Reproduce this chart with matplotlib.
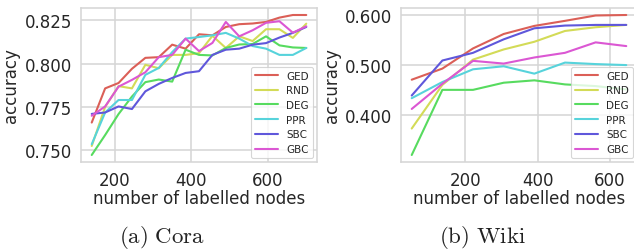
import matplotlib
matplotlib.use("Agg")
import matplotlib.pyplot as plt
import seaborn as sns
import numpy as np

sns.set_style("whitegrid")
plt.rcParams['font.family'] = ['DejaVu Sans']
plt.rcParams['mathtext.fontset'] = 'cm'

methods = ["GED", "RND", "DEG", "PPR", "SBC", "GBC"]

cora_x = [140, 175, 210, 245, 280, 315, 350, 385, 420, 455, 490, 525, 560, 595, 630, 665, 700]
cora_ged = [0.766, 0.7857, 0.7888, 0.797, 0.8033, 0.8037, 0.8109, 0.8086, 0.8169, 0.8163, 0.8211, 0.8227, 0.8231, 0.824, 0.8265, 0.828, 0.828]
cora_rnd = [0.7525, 0.775, 0.787, 0.7857, 0.7993, 0.7973, 0.805, 0.805, 0.806, 0.816, 0.809, 0.8157, 0.813, 0.8198, 0.8198, 0.8148, 0.823]
cora_deg = [0.7473, 0.7588, 0.7709, 0.781, 0.7893, 0.7908, 0.7896, 0.808, 0.805, 0.8047, 0.809, 0.811, 0.8113, 0.8157, 0.8105, 0.8093, 0.809]
cora_ppr = [0.7535, 0.7718, 0.779, 0.779, 0.7935, 0.7975, 0.8066, 0.8144, 0.8153, 0.8163, 0.8177, 0.8144, 0.8101, 0.8086, 0.805, 0.805, 0.809]
cora_sbc = [0.771, 0.7718, 0.7753, 0.7738, 0.784, 0.7883, 0.7917, 0.7946, 0.7956, 0.805, 0.808, 0.8086, 0.8109, 0.8118, 0.815, 0.8177, 0.8211]
cora_gbc = [0.7699, 0.7753, 0.7867, 0.7906, 0.795, 0.8037, 0.805, 0.8144, 0.8072, 0.8119, 0.824, 0.8157, 0.8192, 0.8235, 0.8244, 0.8178, 0.8215]

wiki_x = [51, 136, 221, 306, 391, 476, 561, 646]
wiki_ged = [0.4705, 0.4929, 0.5336, 0.5627, 0.579, 0.5892, 0.600, 0.601]
wiki_rnd = [0.372, 0.460, 0.511, 0.5315, 0.547, 0.5688, 0.5763, 0.581]
wiki_deg = [0.3186, 0.450, 0.450, 0.4644, 0.4692, 0.461, 0.4576, 0.4508]
wiki_ppr = [0.4332, 0.4658, 0.4915, 0.4976, 0.4827, 0.505, 0.502, 0.500]
wiki_sbc = [0.4386, 0.5092, 0.5247, 0.5519, 0.5742, 0.5797, 0.581, 0.581]
wiki_gbc = [0.4115, 0.4624, 0.5085, 0.503, 0.5153, 0.5247, 0.5458, 0.5383]

cora_yticks = [0.750, 0.775, 0.800, 0.825]
wiki_yticks = [0.400, 0.500, 0.600]
xticks = [200, 400, 600]

colors = sns.color_palette("hls", 6)

W, H = 634, 253
fig = plt.figure(figsize=(W / 100, H / 100), dpi=100)

def px_axes(l, r, t, b):
    return fig.add_axes([l / W, 1 - b / H, (r - l) / W, (b - t) / H])

ax1 = px_axes(81, 317, 9, 163)
ax2 = px_axes(401, 637, 9, 163)

txtc = '#262626'
for ax, xs, series, yt in [
    (ax1, cora_x, [cora_ged, cora_rnd, cora_deg, cora_ppr, cora_sbc, cora_gbc], cora_yticks),
    (ax2, wiki_x, [wiki_ged, wiki_rnd, wiki_deg, wiki_ppr, wiki_sbc, wiki_gbc], wiki_yticks),
]:
    for name, ys, c in zip(methods, series, colors):
        ax.plot(xs, ys, color=c, lw=1.5, label=name)
    ax.set_xticks(xticks)
    ax.set_yticks(yt)
    ax.yaxis.set_major_formatter(matplotlib.ticker.FormatStrFormatter('%.3f'))
    ax.tick_params(labelsize=12, colors=txtc, pad=3)
    ax.set_xlabel("number of labelled nodes", fontsize=12, color=txtc, labelpad=0)
    ax.set_ylabel("accuracy", fontsize=12, color=txtc, labelpad=3)
    ax.grid(True, color='#d5d5d5', lw=1.1)
    for s in ax.spines.values():
        s.set_color('#d5d5d5')
        s.set_linewidth(1.1)
    leg = ax.legend(loc='lower right', fontsize=7.5, handlelength=2.2,
                    borderaxespad=0.35, labelspacing=0.45, frameon=True)
    leg.get_frame().set_linewidth(0.8)

fig.text(162 / W, 1 - 243 / H, r'$\mathrm{(a)\ Cora}$', ha='center', va='baseline', fontsize=16.5, color='#222222')
fig.text(482 / W, 1 - 243 / H, r'$\mathrm{(b)\ Wiki}$', ha='center', va='baseline', fontsize=16.5, color='#222222')

fig.savefig("out.png", dpi=100)
